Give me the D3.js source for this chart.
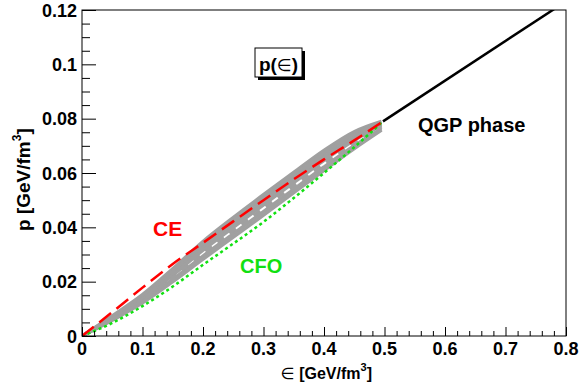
<!DOCTYPE html>
<html>
<head>
<meta charset="utf-8">
<script src="https://cdn.jsdelivr.net/npm/d3@7"></script>
<style>
  body { margin: 0; background: #fff; }
  text { font-family: "Liberation Sans", Arial, sans-serif; font-weight: bold; }
</style>
</head>
<body>
<svg width="581" height="386"></svg>
<script>
// energy density grid (GeV/fm^3)
const eps = [0, 0.05, 0.1, 0.15, 0.2, 0.25, 0.3, 0.35, 0.4, 0.45, 0.495];
// gray band of model curves, top to bottom
const gray1 = [0, 0.0074, 0.0152, 0.0247, 0.0348, 0.0436, 0.0520, 0.0602, 0.0683, 0.0752, 0.0790];
const gray2 = [0, 0.0071, 0.0147, 0.0239, 0.0337, 0.0424, 0.0508, 0.0590, 0.0671, 0.0742, 0.0785];
const gray3 = [0, 0.0069, 0.0142, 0.0231, 0.0326, 0.0412, 0.0495, 0.0577, 0.0659, 0.0731, 0.0779];
const gray4 = [0, 0.0066, 0.0137, 0.0224, 0.0316, 0.0400, 0.0483, 0.0565, 0.0647, 0.0721, 0.0774];
const gray5 = [0, 0.0063, 0.0132, 0.0216, 0.0305, 0.0388, 0.0470, 0.0553, 0.0634, 0.0711, 0.0769]; // dashed
const gray6 = [0, 0.0061, 0.0127, 0.0208, 0.0294, 0.0376, 0.0458, 0.0540, 0.0622, 0.0700, 0.0763];
const gray7 = [0, 0.0058, 0.0122, 0.0200, 0.0283, 0.0364, 0.0445, 0.0528, 0.0610, 0.0690, 0.0758];

const epsCE = [0, 0.05, 0.1, 0.15, 0.2, 0.25, 0.3, 0.35, 0.4, 0.45, 0.4975];
const pCE = [0, 0.0088, 0.0178, 0.0265, 0.0343, 0.0422, 0.0500, 0.0577, 0.0650, 0.0720, 0.0790];
const pCFO = [0, 0.0048, 0.0110, 0.0182, 0.0262, 0.0340, 0.0420, 0.0508, 0.0600, 0.0695, 0.0790];

const epsQGP = [0.4975, 0.8];
const pQGP = [0.079, 0.1232];

const xTicks = [0, 0.1, 0.2, 0.3, 0.4, 0.5, 0.6, 0.7, 0.8];
const yTicks = [0, 0.02, 0.04, 0.06, 0.08, 0.1, 0.12];

const svg = d3.select('svg');
const margin = { top: 10, right: 15, bottom: 50, left: 82 };
const width = +svg.attr('width');
const height = +svg.attr('height');
const w = width - margin.left - margin.right;
const h = height - margin.top - margin.bottom;

const x = d3.scaleLinear().domain([0, 0.8]).range([0, w]);
const y = d3.scaleLinear().domain([0, 0.12]).range([h, 0]);

const g = svg.append('g').attr('transform', `translate(${margin.left},${margin.top})`);

g.append('clipPath').attr('id', 'clip')
  .append('rect').attr('width', w).attr('height', h);

const plot = g.append('g').attr('clip-path', 'url(#clip)');

const line = (xs) => d3.line()
  .x((d, i) => x(xs[i]))
  .y((d) => y(d))
  .curve(d3.curveMonotoneX);

// gray band
[gray1, gray2, gray3, gray4, gray6, gray7].forEach((s) => {
  plot.append('path').attr('d', line(eps)(s))
    .attr('fill', 'none').attr('stroke', '#a0a0a0').attr('stroke-width', 3.5);
});
plot.append('path').attr('d', line(eps)(gray5))
  .attr('fill', 'none').attr('stroke', '#a0a0a0').attr('stroke-width', 3.5)
  .attr('stroke-dasharray', '8,7');

// CFO dotted
plot.append('path').attr('d', line(epsCE)(pCFO))
  .attr('fill', 'none').attr('stroke', '#11e011').attr('stroke-width', 2.5)
  .attr('stroke-dasharray', '3,3');

// CE dashed
plot.append('path').attr('d', line(epsCE)(pCE))
  .attr('fill', 'none').attr('stroke', '#ff0000').attr('stroke-width', 2.5)
  .attr('stroke-dasharray', '15,7');

// QGP
plot.append('path').attr('d', d3.line().x((d, i) => x(epsQGP[i])).y((d) => y(d))(pQGP))
  .attr('fill', 'none').attr('stroke', '#000').attr('stroke-width', 2.5);

// frame
g.append('rect').attr('width', w).attr('height', h)
  .attr('fill', 'none').attr('stroke', '#000').attr('stroke-width', 1);

// x axis
const xAxis = g.append('g').attr('transform', `translate(0,${h})`);
xAxis.call(d3.axisBottom(x).tickValues(d3.range(0, 0.8001, 0.02)).tickSize(-5).tickFormat(''));
xAxis.call((a) => a.select('.domain').remove());
xAxis.selectAll('.tick').filter((d) => xTicks.some((t) => Math.abs(t - d) < 1e-6))
  .select('line').attr('y2', -9);
xAxis.selectAll('.tick line').attr('stroke', '#000');
xAxis.selectAll('.xlab').data(xTicks).enter().append('text')
  .attr('x', (d) => x(d)).attr('y', 19)
  .attr('text-anchor', 'middle').attr('font-size', 18).attr('fill', '#000')
  .text((d) => d);

// y axis
const yAxis = g.append('g');
yAxis.call(d3.axisLeft(y).tickValues(d3.range(0, 0.12001, 0.005)).tickSize(-8).tickFormat(''));
yAxis.call((a) => a.select('.domain').remove());
yAxis.selectAll('.tick').filter((d) => yTicks.some((t) => Math.abs(t - d) < 1e-6))
  .select('line').attr('x2', 14);
yAxis.selectAll('.tick line').attr('stroke', '#000');
yAxis.selectAll('.ylab').data(yTicks).enter().append('text')
  .attr('x', -5).attr('y', (d) => y(d) + 6.5)
  .attr('text-anchor', 'end').attr('font-size', 18).attr('fill', '#000')
  .text((d) => d);

// axis titles
const xt = svg.append('text').attr('x', 372).attr('y', 379)
  .attr('text-anchor', 'end').attr('font-size', 16).attr('fill', '#000');
xt.append('tspan').style('font-weight', 'normal').attr('font-family', 'DejaVu Sans').text('∈');
xt.append('tspan').text(' [GeV/fm');
xt.append('tspan').attr('font-size', 11).attr('dy', -8).text('3');
xt.append('tspan').attr('dy', 8).text(']');

const yt = svg.append('text').attr('transform', 'translate(30,231) rotate(-90)')
  .attr('text-anchor', 'start').attr('font-size', 19).attr('fill', '#000');
yt.append('tspan').text('p [GeV/fm');
yt.append('tspan').attr('font-size', 12).attr('dy', -9).text('3');
yt.append('tspan').attr('dy', 9).text(']');

// labels
svg.append('text').attr('x', 418).attr('y', 132).attr('font-size', 20).attr('fill', '#000').text('QGP phase');
svg.append('text').attr('x', 153).attr('y', 236).attr('font-size', 21).attr('fill', '#ff0000').text('CE');
svg.append('text').attr('x', 240).attr('y', 273).attr('font-size', 20).attr('fill', '#11e011').text('CFO');

// p(eps) box with shadow
svg.append('rect').attr('x', 258).attr('y', 51).attr('width', 47).attr('height', 29).attr('fill', '#000');
svg.append('rect').attr('x', 255).attr('y', 48).attr('width', 47).attr('height', 29)
  .attr('fill', '#fff').attr('stroke', '#000').attr('stroke-width', 1);
const pt = svg.append('text').attr('x', 278.5).attr('y', 71).attr('text-anchor', 'middle')
  .attr('font-size', 19).attr('fill', '#000');
pt.append('tspan').text('p(');
pt.append('tspan').style('font-weight', 'normal').attr('font-family', 'DejaVu Sans').attr('font-size', 17).text('∈');
pt.append('tspan').text(')');
</script>
</body>
</html>
